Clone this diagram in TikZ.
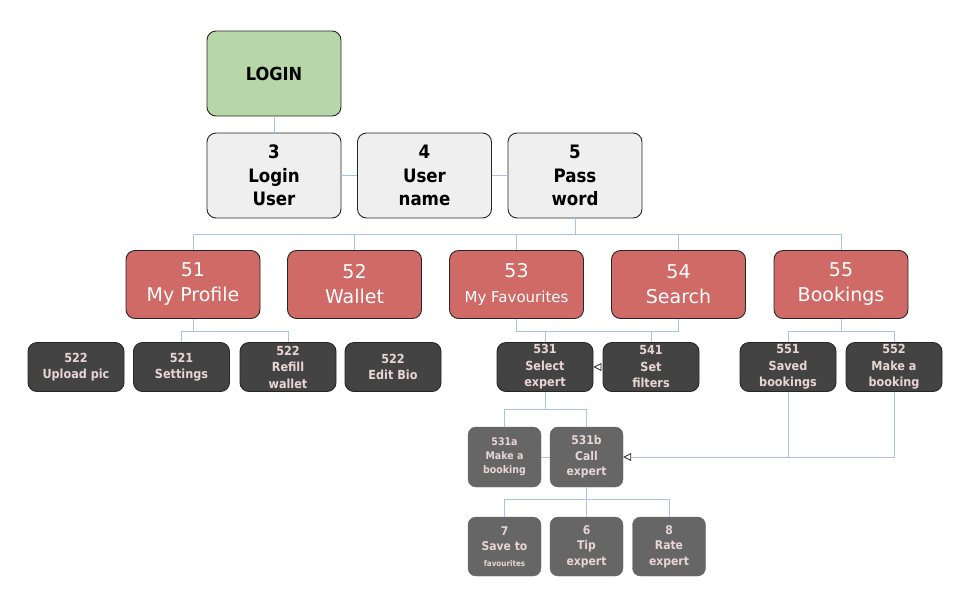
\documentclass[tikz,border=0pt]{standalone}
\usepackage{fontspec}
\setmainfont{DejaVu Sans}
\newfontfamily\condf{DejaVu Sans Condensed}
\usetikzlibrary{arrows.meta}
\definecolor{greenfill}{HTML}{B8D7A9}
\definecolor{lightfill}{HTML}{EFEFEF}
\definecolor{redfill}{HTML}{CF6A67}
\definecolor{darkfill}{HTML}{434343}
\definecolor{grayfill}{HTML}{666666}
\definecolor{pinktext}{HTML}{EAD5D5}
\definecolor{linkblue}{HTML}{A9C3EE}
\tikzset{
  box/.style={rectangle, rounded corners=9pt, draw=black!85, line width=0.9pt, align=center, inner sep=0pt},
  greenbox/.style={box, fill=greenfill, minimum width=134pt, minimum height=85pt, font=\condf\bfseries\fontsize{18}{22}\selectfont},
  lightbox/.style={box, fill=lightfill, minimum width=134pt, minimum height=85pt, font=\condf\bfseries\fontsize{18.5}{23.5}\selectfont},
  redbox/.style={box, fill=redfill, text=white, minimum width=134pt, minimum height=68pt, font=\fontsize{19}{25}\selectfont},
  darkbox/.style={box, fill=darkfill, text=pinktext, minimum width=96pt, minimum height=49pt, font=\condf\bfseries\fontsize{12.5}{16.5}\selectfont},
  graybox/.style={rectangle, rounded corners=8pt, draw=grayfill, fill=grayfill, text=pinktext, align=center, inner sep=0pt, minimum width=73pt, minimum height=60pt, font=\condf\bfseries\fontsize{11.5}{15}\selectfont},
  link/.style={draw=linkblue, line width=0.9pt},
  openarrow/.style={link, -{Triangle[open, length=8pt, width=8pt, line width=0.9pt, color=black!80, fill=white]}},
}
\begin{document}
\begin{tikzpicture}[x=1pt, y=-1pt]
\useasboundingbox (0,0) rectangle (963,600);
% nodes
\node[greenbox] (login) at (274,73.5) {LOGIN};
\node[lightbox] (n3) at (274,175.5) {3\\Login\\User};
\node[lightbox] (n4) at (424.5,175.5) {4\\User\\name};
\node[lightbox] (n5) at (575,175.5) {5\\Pass\\word};
\node[redbox] (r51) at (193,284.5) {51\\My Profile};
\node[redbox] (r52) at (354.5,284.5) {52\\Wallet};
\node[redbox] (r53) at (516.5,284.5) {53\\{\fontsize{15}{20}\selectfont My Favourites}};
\node[redbox] (r54) at (678.5,284.5) {54\\Search};
\node[redbox] (r55) at (841,284.5) {55\\Bookings};
\node[darkbox] (d522a) at (76,367) {522\\Upload pic};
\node[darkbox] (d521) at (181.5,367) {521\\Settings};
\node[darkbox] (d522b) at (288,367) {522\\Refill\\wallet};
\node[darkbox] (d522c) at (393,367) {522\\Edit Bio};
\node[darkbox] (d531) at (545,367) {531\\Select\\expert};
\node[darkbox] (d541) at (651,367) {541\\Set\\filters};
\node[darkbox] (d551) at (788,367) {551\\Saved\\bookings};
\node[darkbox] (d552) at (894,367) {552\\Make a\\booking};
\node[graybox, font=\condf\bfseries\fontsize{10.5}{14}\selectfont] (g531a) at (504.5,457) {531a\\Make a\\booking};
\node[graybox, font=\condf\bfseries\fontsize{12}{15.5}\selectfont] (g531b) at (586.5,457) {531b\\Call\\expert};
\node[graybox, minimum height=59pt, font=\condf\bfseries\fontsize{12}{15.5}\selectfont] (g7) at (504.5,546.5) {7\\Save to\\{\fontsize{8}{10}\selectfont favourites}};
\node[graybox, minimum height=59pt, font=\condf\bfseries\fontsize{12}{15.5}\selectfont] (g6) at (586.5,546.5) {6\\Tip\\expert};
\node[graybox, minimum height=59pt, font=\condf\bfseries\fontsize{12}{15.5}\selectfont] (g8) at (669,546.5) {8\\Rate\\expert};
% connectors
\draw[link] (login.south) -- (n3.north);
\draw[link] (n3.east) -- (n4.west);
\draw[link] (n4.east) -- (n5.west);
\foreach \r in {r51,r52,r53,r54,r55}{
  \draw[link] (n5.south) -- ++(0,16) -| (\r.north);
}
\draw[link] (r51.south) -- ++(0,12) -| (d521.north);
\draw[link] (r51.south) -- ++(0,12) -| (d522b.north);
\draw[link] (r53.south) -- ++(0,12) coordinate (b53) -| (r54.south);
\draw[link] (d531.north) -- (d531.north |- b53);
\draw[link] (d541.north) -- (d541.north |- b53);
\draw[link] (r55.south) -- ++(0,12) -| (d551.north);
\draw[link] (r55.south) -- ++(0,12) -| (d552.north);
\draw[openarrow] (d541.west) -- (d531.east);
\draw[link] (d531.south) -- ++(0,17) -| (g531a.north);
\draw[link] (d531.south) -- ++(0,17) -| (g531b.north);
\draw[link] (g531a.east) -- (g531b.west);
\draw[link] (d551.south) -- (d551.south |- g531b.east);
\draw[openarrow] (d552.south) |- (g531b.east);
\draw[link] (g531b.south) -- ++(0,12) -| (g7.north);
\draw[link] (g531b.south) -- (g6.north);
\draw[link] (g531b.south) -- ++(0,12) -| (g8.north);
\end{tikzpicture}
\end{document}
